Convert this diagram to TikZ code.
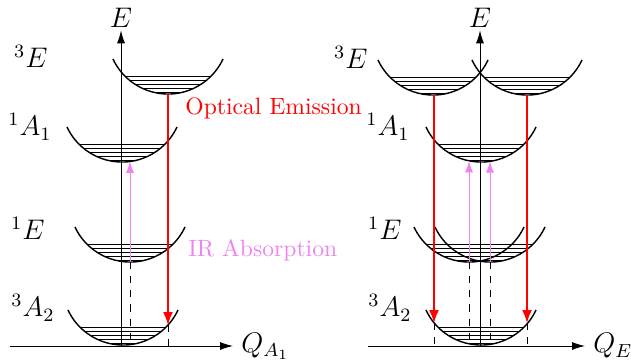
\documentclass[tikz,border=0pt]{standalone}
\usepackage{tikz}
\usetikzlibrary{arrows.meta}
\definecolor{irviolet}{RGB}{238,130,238}
\tikzset{
  well/.style={semithick},
  level/.style={thin},
  axis_arr/.style={-{Latex[length=5.5pt,width=3.4pt]}},
  emit_arr/.style={red, semithick, -{Latex[length=5.5pt,width=4.2pt]}},
  absorb_arr/.style={irviolet, -{Latex[length=4.8pt,width=3.4pt]}},
  proj/.style={dashed},
  state_lbl/.style={anchor=base east, inner sep=0pt, font=\large},
  axis_lbl/.style={font=\large},
  tr_lbl/.style={anchor=base west, inner sep=0pt},
}
% potential well with vibrational levels: #1 = centre x, #2 = bottom y
\newcommand{\wellpot}[2]{%
  \draw[well] (#1-55,#2+35) arc[start angle=205, end angle=335, radius=60.7];
  \foreach \d in {18,14,10,6}{
    \pgfmathsetmacro\hw{sqrt(60.7^2-(60.7-\d)^2)}
    \draw[level] (#1-\hw,#2+\d) -- (#1+\hw,#2+\d);
  }
  \draw[level] (#1-13,#2+2) -- (#1+13,#2+2);
}

\begin{document}
\begin{tikzpicture}[x=0.4237pt, y=0.4237pt]
\useasboundingbox (0,0) rectangle (631,363);

% Left: A_1 coordinate
\wellpot{168}{269}
\wellpot{122}{201}
\wellpot{130}{101}
\wellpot{123}{18}

\coordinate (hL) at (10,17);
\coordinate (oL) at (121,17);
\node[axis_lbl, anchor=west] (QL) at (233,17) {$Q_{A_1}$};
\node[axis_lbl, anchor=base, inner sep=0.8pt] (EL) at (121,335) {$E$};
\draw[axis_arr] (hL) -- (QL.west);
\draw[axis_arr] (oL) -- (EL.south);

\node[state_lbl] (tEL)  at (48,295) {$^3E$};
\node[state_lbl] (sAL)  at (52,227) {$^1A_1$};
\node[state_lbl] (sEL)  at (45,123) {$^1E$};
\node[state_lbl] (tAL)  at (55,46)  {$^3A_2$};

\coordinate (eL) at (168,269);
\coordinate (gL) at (168,38);
\coordinate (sL) at (130,101);
\coordinate (aL) at (130,201.5);
\draw[emit_arr] (eL) -- (gL);
\draw[absorb_arr] (sL) -- (aL);
\draw[proj] (gL) -- (gL |- oL);
\draw[proj] (sL) -- (sL |- oL);

\node[tr_lbl, red] (optem) at (185,248) {Optical Emission};
\node[tr_lbl, irviolet] (irabs) at (188,106) {IR Absorption};

% Right: E coordinate
\wellpot{433}{268}
\wellpot{527}{268}
\wellpot{481}{201}
\wellpot{469}{101}
\wellpot{490}{101}
\wellpot{481}{18}

\coordinate (hR) at (368,17);
\coordinate (oR) at (480,17);
\node[axis_lbl, anchor=west] (QR) at (585,17) {$Q_E$};
\node[axis_lbl, anchor=base, inner sep=0.8pt] (ER) at (480,335) {$E$};
\draw[axis_arr] (hR) -- (QR.west);
\draw[axis_arr] (oR) -- (ER.south);

\node[state_lbl] (tER)  at (368,294) {$^3E$};
\node[state_lbl] (sAR)  at (410,227) {$^1A_1$};
\node[state_lbl] (sER)  at (402,123) {$^1E$};
\node[state_lbl] (tAR)  at (412,46)  {$^3A_2$};

\coordinate (eR1) at (434,268);
\coordinate (gR1) at (434,40);
\coordinate (eR2) at (527,268);
\coordinate (gR2) at (527,40);
\coordinate (sR1) at (469,101);
\coordinate (aR1) at (469,202);
\coordinate (sR2) at (490,101);
\coordinate (aR2) at (490,201.7);
\draw[emit_arr] (eR1) -- (gR1);
\draw[emit_arr] (eR2) -- (gR2);
\draw[absorb_arr] (sR1) -- (aR1);
\draw[absorb_arr] (sR2) -- (aR2);
\draw[proj] (gR1) -- (gR1 |- oR);
\draw[proj] (gR2) -- (gR2 |- oR);
\draw[proj] (sR1) -- (sR1 |- oR);
\draw[proj] (sR2) -- (sR2 |- oR);

\end{tikzpicture}
\end{document}
